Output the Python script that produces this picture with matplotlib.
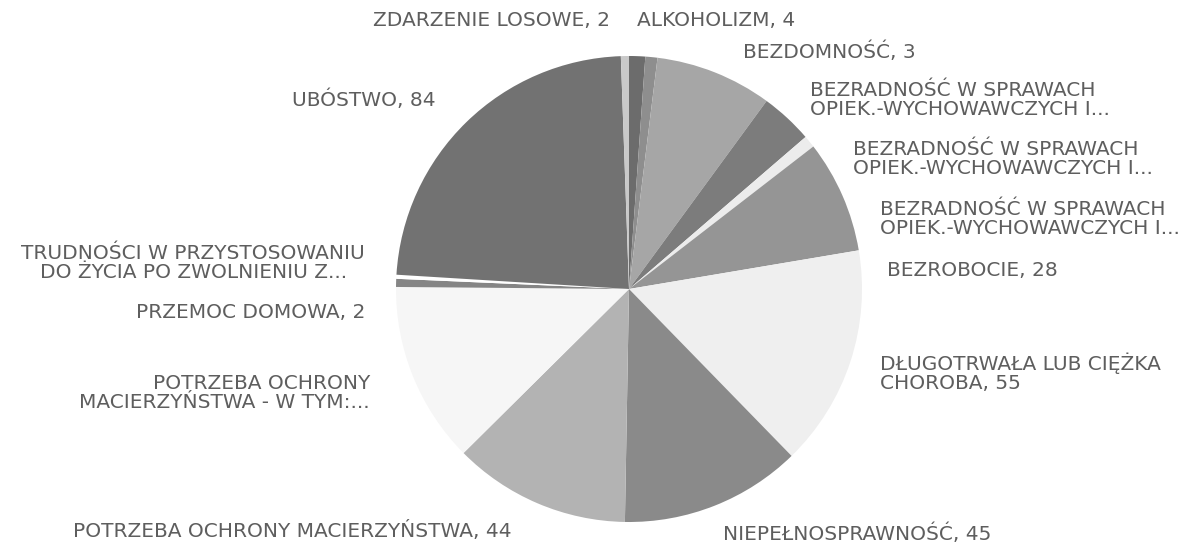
import matplotlib.pyplot as plt

# data (clockwise from 12 o'clock)
categories = [
    "ALKOHOLIZM", "BEZDOMNOŚĆ",
    "BEZRADNOŚĆ 1", "BEZRADNOŚĆ 2", "BEZRADNOŚĆ 3",
    "BEZROBOCIE", "DŁUGOTRWAŁA LUB CIĘŻKA CHOROBA", "NIEPEŁNOSPRAWNOŚĆ",
    "POTRZEBA OCHRONY MACIERZYŃSTWA", "POTRZEBA OCHRONY MACIERZYŃSTWA - W TYM",
    "PRZEMOC DOMOWA", "TRUDNOŚCI W PRZYSTOSOWANIU", "UBÓSTWO", "ZDARZENIE LOSOWE",
]
values = [4, 3, 29, 13, 3, 28, 55, 45, 44, 45, 2, 1, 84, 2]
label_texts = [
    "ALKOHOLIZM, 4",
    "BEZDOMNOŚĆ, 3",
    "BEZRADNOŚĆ W SPRAWACH\nOPIEK.-WYCHOWAWCZYCH I...",
    "BEZRADNOŚĆ W SPRAWACH\nOPIEK.-WYCHOWAWCZYCH I...",
    "BEZRADNOŚĆ W SPRAWACH\nOPIEK.-WYCHOWAWCZYCH I...",
    "BEZROBOCIE, 28",
    "DŁUGOTRWAŁA LUB CIĘŻKA\nCHOROBA, 55",
    "NIEPEŁNOSPRAWNOŚĆ, 45",
    "POTRZEBA OCHRONY MACIERZYŃSTWA, 44",
    "POTRZEBA OCHRONY\nMACIERZYŃSTWA - W TYM:...",
    "PRZEMOC DOMOWA, 2",
    "TRUDNOŚCI W PRZYSTOSOWANIU\nDO ŻYCIA PO ZWOLNIENIU Z...",
    "UBÓSTWO, 84",
    "ZDARZENIE LOSOWE, 2",
]

# styling / layout
colors = ["#6c6c6c", "#8e8e8e", "#a6a6a6", "#7c7c7c", "#ececec", "#959595",
          "#efefef", "#8a8a8a", "#b3b3b3", "#f6f6f6", "#858585", "#ffffff",
          "#727272", "#c9c9c9"]
# label anchors in pixels (x, y from top, horizontal alignment, multiline alignment)
label_pos = [
    (637, 21, "left", "left"),
    (743, 52, "left", "left"),
    (810, 100, "left", "left"),
    (853, 159, "left", "left"),
    (880, 219, "left", "left"),
    (887, 271, "left", "left"),
    (880, 373, "left", "left"),
    (723, 534, "left", "left"),
    (512, 531, "right", "right"),
    (370, 393, "right", "right"),
    (365, 312, "right", "right"),
    (365, 263, "right", "center"),
    (436, 100, "right", "right"),
    (610, 21, "right", "right"),
]

W, H = 1198, 546
cx, cy, r = 629, 289, 233

fig = plt.figure(figsize=(W / 100, H / 100), dpi=100)
ax = fig.add_axes([(cx - r) / W, (H - cy - r) / H, 2 * r / W, 2 * r / H])
ax.pie(values, colors=colors, startangle=90, counterclock=False, radius=1,
       wedgeprops=dict(linewidth=0))
ax.set_xlim(-1, 1)
ax.set_ylim(-1, 1)
ax.set_aspect("equal")
ax.axis("off")

for txt, (x, y, ha, ma) in zip(label_texts, label_pos):
    fig.text(x / W, 1 - y / H, txt, ha=ha, va="center", multialignment=ma,
             fontsize=14.5, color="#5e5e5e", linespacing=1.0,
             family="DejaVu Sans")

fig.savefig("out.png", dpi=100, facecolor="white")
